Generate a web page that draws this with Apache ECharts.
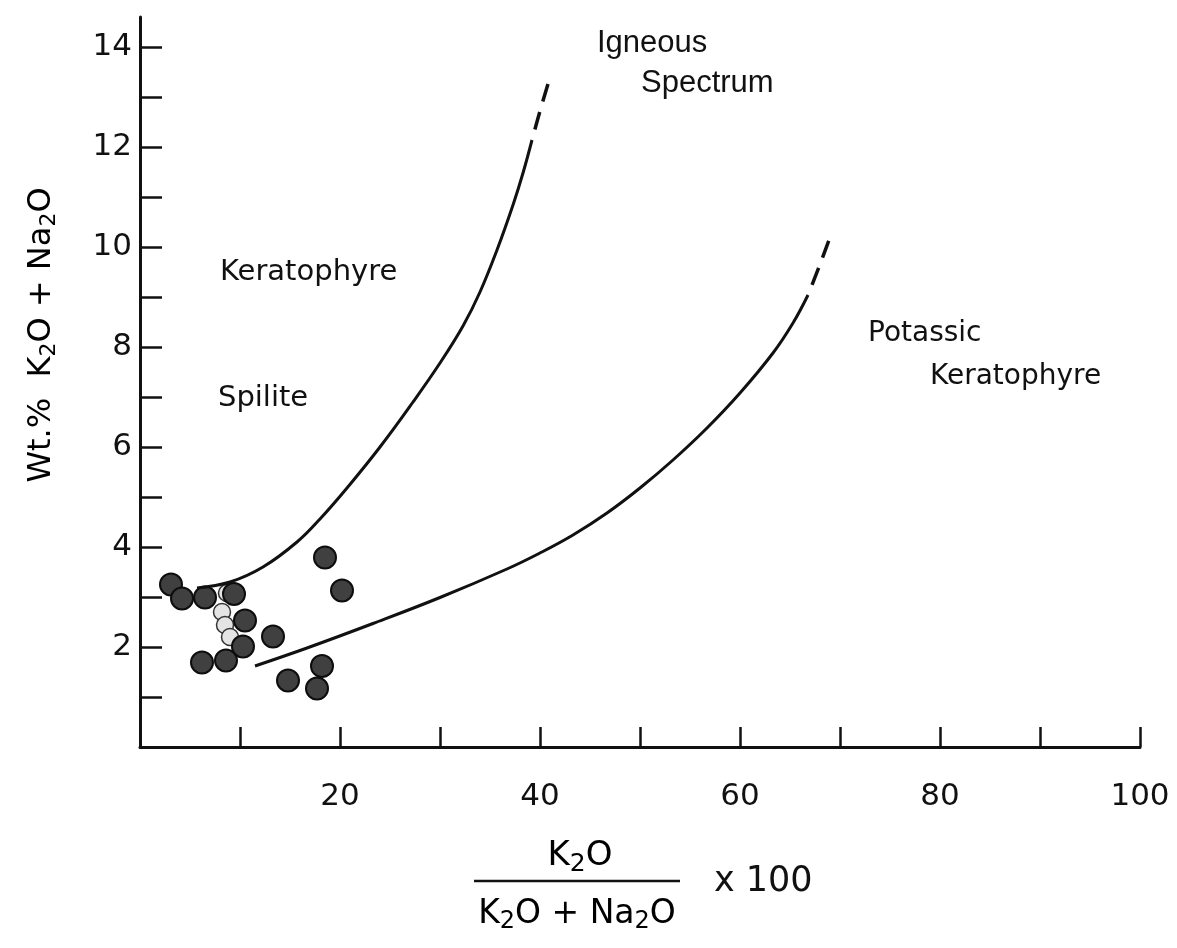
<!DOCTYPE html>
<html>
<head>
<meta charset="utf-8">
<script src="https://cdn.jsdelivr.net/npm/echarts@6/dist/echarts.min.js"></script>
<style>
html,body{margin:0;padding:0;background:#fff;}
#chart{width:1177px;height:948px;}
</style>
</head>
<body>
<div id="chart"></div>
<script>
// ---- data (x = K2O/(K2O+Na2O)*100, y = wt.% K2O+Na2O) ----
const xTickLabels = [20, 40, 60, 80, 100];
const yTickLabels = [2, 4, 6, 8, 10, 12, 14];

const upperCurve = [[5.7,3.18],[9.0,3.30],[12.3,3.60],[15.7,4.10],[18.0,4.56],[20.7,5.18],[24.0,6.00],[27.3,6.90],[30.0,7.68],[32.3,8.42],[34.0,9.10],[35.7,9.94],[37.3,10.84],[38.3,11.48],[39.2,12.14]];
const upperDash = [[39.2,12.14],[40.0,12.72],[40.8,13.26]];
const lowerCurve = [[11.5,1.62],[16.7,1.98],[23.3,2.47],[30.0,2.99],[36.7,3.56],[40.0,3.88],[43.3,4.24],[46.7,4.68],[50.0,5.18],[53.3,5.74],[56.7,6.38],[60.0,7.08],[63.3,7.88],[65.3,8.48],[66.8,9.04]];
const lowerDash = [[66.8,9.04],[67.9,9.60],[68.9,10.14]];

const samples = [[3.1,3.25],[4.2,2.97],[6.5,2.99],[9.4,3.06],[10.5,2.53],[10.3,2.01],[6.2,1.69],[8.6,1.73],[13.3,2.21],[18.5,3.79],[20.2,3.13],[18.2,1.62],[14.8,1.33],[17.7,1.17]];
const lightSamples = [[8.7,3.08],[8.2,2.70],[8.5,2.44],[9.0,2.20]];

const FONT = 'DejaVu Sans';
const chart = echarts.init(document.getElementById('chart'), null, {renderer:'canvas'});

const lineStyleSolid = {color:'#111', width:3};

const option = {
  animation:false,
  backgroundColor:'#fff',
  grid:[
    {left:140, right:37, top:17, bottom:201},
    {left:140, right:37, top:47, bottom:201}
  ],
  xAxis:[
    {gridIndex:0, type:'value', min:0, max:100, interval:10,
     axisLine:{show:true, lineStyle:{color:'#111', width:3}},
     axisTick:{show:true, inside:true, length:20, lineStyle:{color:'#111', width:2.5}},
     axisLabel:{margin:34, fontFamily:FONT, fontSize:31, color:'#111',
       formatter:v => xTickLabels.indexOf(v) >= 0 ? String(v) : ''},
     splitLine:{show:false}},
    {gridIndex:1, type:'value', min:0, max:100, show:false}
  ],
  yAxis:[
    {gridIndex:0, type:'value', min:0, max:14.6,
     axisLine:{show:true, lineStyle:{color:'#111', width:3}},
     axisTick:{show:false}, axisLabel:{show:false}, splitLine:{show:false}},
    {gridIndex:1, type:'value', min:0, max:14, interval:1,
     axisLine:{show:false},
     axisTick:{show:true, inside:true, length:22, lineStyle:{color:'#111', width:2.5}},
     axisLabel:{margin:8, fontFamily:FONT, fontSize:31, color:'#111',
       formatter:v => yTickLabels.indexOf(v) >= 0 ? String(v) : ''},
     splitLine:{show:false}}
  ],
  series:[
    {type:'line', xAxisIndex:0, yAxisIndex:0, data:upperCurve, smooth:0.4, showSymbol:false, lineStyle:lineStyleSolid},
    {type:'line', xAxisIndex:0, yAxisIndex:0, data:upperDash, smooth:0.3, showSymbol:false,
     lineStyle:{color:'#111', width:3.5, type:[18,11], dashOffset:18}},
    {type:'line', xAxisIndex:0, yAxisIndex:0, data:lowerCurve, smooth:0.4, showSymbol:false, lineStyle:lineStyleSolid},
    {type:'line', xAxisIndex:0, yAxisIndex:0, data:lowerDash, smooth:0.3, showSymbol:false,
     lineStyle:{color:'#111', width:3.5, type:[18,11], dashOffset:18}},
    {type:'scatter', xAxisIndex:0, yAxisIndex:0, data:lightSamples, symbol:'circle', symbolSize:17,
     itemStyle:{color:'#e4e4e4', borderColor:'#333', borderWidth:1.5, opacity:1}},
    {type:'scatter', xAxisIndex:0, yAxisIndex:0, data:samples, symbol:'circle', symbolSize:22,
     itemStyle:{color:'#404040', borderColor:'#0d0d0d', borderWidth:2, opacity:1}}
  ],
  graphic:[
    // region labels
    {type:'text', left:220, top:258, style:{text:'Keratophyre', font:'29px "DejaVu Sans"', fill:'#111'}},
    {type:'text', left:218, top:384, style:{text:'Spilite', font:'29px "DejaVu Sans"', fill:'#111'}},
    {type:'text', left:597, top:28, style:{text:'Igneous', font:'31px "Liberation Sans"', fill:'#111'}},
    {type:'text', left:641, top:68, style:{text:'Spectrum', font:'31px "Liberation Sans"', fill:'#111'}},
    {type:'text', left:868, top:320, style:{text:'Potassic', font:'28px "DejaVu Sans"', fill:'#111'}},
    {type:'text', left:930, top:363, style:{text:'Keratophyre', font:'28px "DejaVu Sans"', fill:'#111'}},
    // y axis title
    {type:'text', x:42, y:335, rotation:Math.PI/2,
     style:{text:'{n|Wt.%  K}{s|2}{n|O + Na}{s|2}{n|O}', align:'center', verticalAlign:'middle',
       rich:{n:{fontFamily:FONT, fontSize:32, color:'#111', lineHeight:44},
             s:{fontFamily:FONT, fontSize:22, color:'#111', lineHeight:44, padding:[14,0,0,0]}}}},
    // x axis title (fraction)
    {type:'text', x:580, y:856,
     style:{text:'{n|K}{s|2}{n|O}', align:'center', verticalAlign:'middle',
       rich:{n:{fontFamily:FONT, fontSize:34, color:'#111', lineHeight:46},
             s:{fontFamily:FONT, fontSize:25, color:'#111', lineHeight:46, padding:[16,0,0,0]}}}},
    {type:'line', shape:{x1:474, y1:881, x2:680, y2:881}, style:{stroke:'#111', lineWidth:2.5}},
    {type:'text', x:577, y:914,
     style:{text:'{n|K}{s|2}{n|O + Na}{s|2}{n|O}', align:'center', verticalAlign:'middle',
       rich:{n:{fontFamily:FONT, fontSize:33, color:'#111', lineHeight:46},
             s:{fontFamily:FONT, fontSize:24, color:'#111', lineHeight:46, padding:[16,0,0,0]}}}},
    {type:'text', x:714, y:882,
     style:{text:'x 100', align:'left', verticalAlign:'middle', font:'35px "DejaVu Sans"', fill:'#111'}}
  ]
};
chart.setOption(option);
</script>
</body>
</html>
